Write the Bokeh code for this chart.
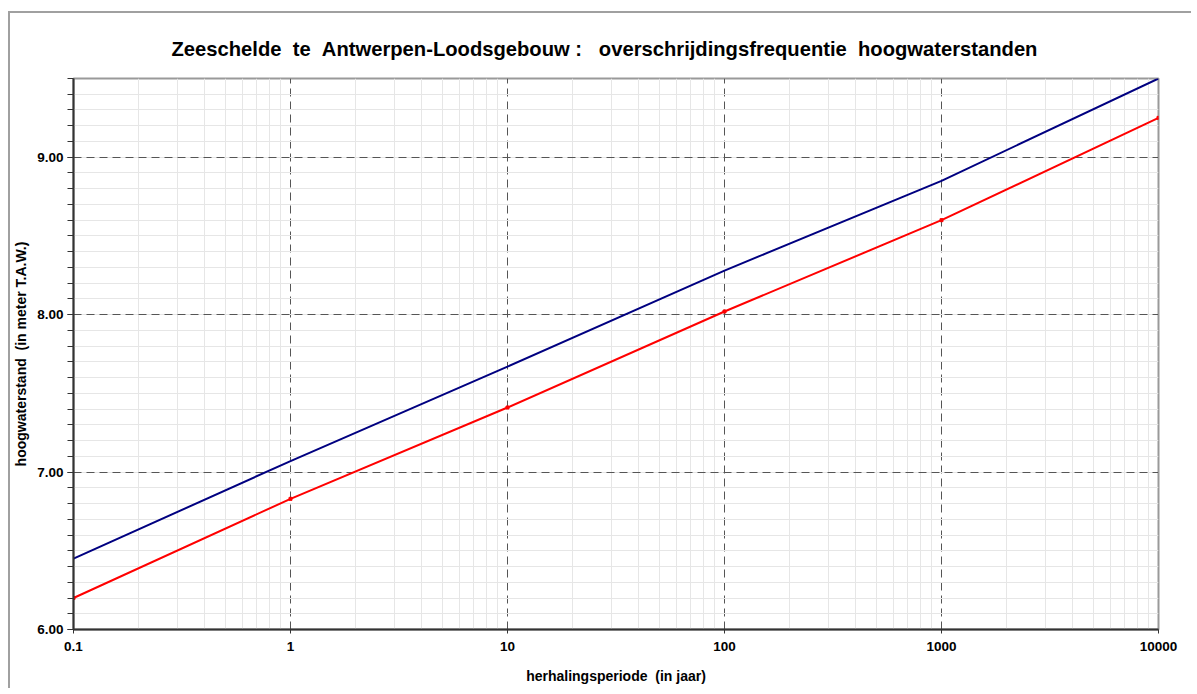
from bokeh.plotting import figure
from bokeh.models import FixedTicker, Range1d, PrintfTickFormatter
from bokeh.embed import file_html
from bokeh.resources import INLINE

NB = "\u00a0"
title_text = f"Zeeschelde{NB}{NB}te{NB}{NB}Antwerpen-Loodsgebouw{NB}:{NB}{NB}{NB}overschrijdingsfrequentie{NB}{NB}hoogwaterstanden"
x_label = f"herhalingsperiode{NB}{NB}(in{NB}jaar)"
y_label = f"hoogwaterstand{NB}{NB}(in{NB}meter{NB}T.A.W.)"

periods = [0.1, 1, 10, 100, 1000, 10000]
upper_levels = [6.45, 7.07, 7.67, 8.28, 8.85, 9.50]
lower_levels = [6.20, 6.83, 7.41, 8.02, 8.60, 9.25]

x_major = [0.1, 1, 10, 100, 1000, 10000]
x_labels = {0.1: "0.1", 1: "1", 10: "10", 100: "100", 1000: "1000", 10000: "10000"}
y_major = [6, 7, 8, 9]

x_minor = [m * d for d in [0.1, 1, 10, 100, 1000] for m in range(2, 10)]
y_minor = [round(6 + 0.1 * i, 1) for i in range(0, 36)]

FONT = "Liberation Sans"

p = figure(width=1183, height=677, x_axis_type="log",
           x_range=Range1d(0.1, 10000), y_range=Range1d(6, 9.5),
           output_backend="svg", toolbar_location=None,
           min_border_left=63, min_border_right=35, min_border_top=65, min_border_bottom=61)
p.styles = {"border-left": "2px solid #a0a0a0", "border-top": "2px solid #a0a0a0",
            "margin-left": "8px", "margin-top": "11px"}

p.title.text = title_text
p.title.align = "left"
p.title.text_font = FONT
p.title.text_font_size = "20.2px"
p.title.text_font_style = "bold"
p.title.text_color = "black"
p.title.offset = 98
p.title.standoff = 37

p.outline_line_color = "#999999"
p.outline_line_width = 2

p.xaxis.ticker = FixedTicker(ticks=x_major, minor_ticks=x_minor)
p.yaxis.ticker = FixedTicker(ticks=y_major, minor_ticks=y_minor)
p.xaxis.major_label_overrides = x_labels
p.yaxis.formatter = PrintfTickFormatter(format="%.2f")

for ax in (p.xaxis[0], p.yaxis[0]):
    ax.axis_line_color = "#333333"
    ax.axis_line_width = 2
    ax.major_tick_line_color = "#333333"
    ax.minor_tick_line_color = "#333333"
    ax.major_tick_in = 0
    ax.minor_tick_in = 0
    ax.major_label_text_font = FONT
    ax.major_label_text_font_style = "bold"
    ax.major_label_text_font_size = "13.5px"
    ax.major_label_text_color = "black"
    ax.axis_label_text_font = FONT
    ax.axis_label_text_font_style = "bold"
    ax.axis_label_text_font_size = "14px"
    ax.axis_label_text_color = "black"

p.xaxis.major_tick_out = 4
p.xaxis.minor_tick_out = 0
p.yaxis.major_tick_out = 6
p.yaxis.minor_tick_out = 6
p.xaxis.major_label_standoff = 8
p.yaxis.major_label_standoff = 4
p.xaxis.axis_label = x_label
p.yaxis.axis_label = y_label
p.xaxis.axis_label_standoff = 14
p.yaxis.axis_label_standoff = 5

for g in (p.xgrid[0], p.ygrid[0]):
    g.grid_line_color = "#555555"
    g.grid_line_dash = "8 5"
    g.grid_line_width = 1
    g.minor_grid_line_color = "#e6e6e6"
    g.minor_grid_line_width = 1

p.line(periods, upper_levels, line_color="#000080", line_width=2)
p.line(periods, lower_levels, line_color="#ff0000", line_width=2)
p.scatter(periods, lower_levels, marker="square", size=3, color="#ff0000")

open("out.html", "w").write(file_html(p, INLINE))
